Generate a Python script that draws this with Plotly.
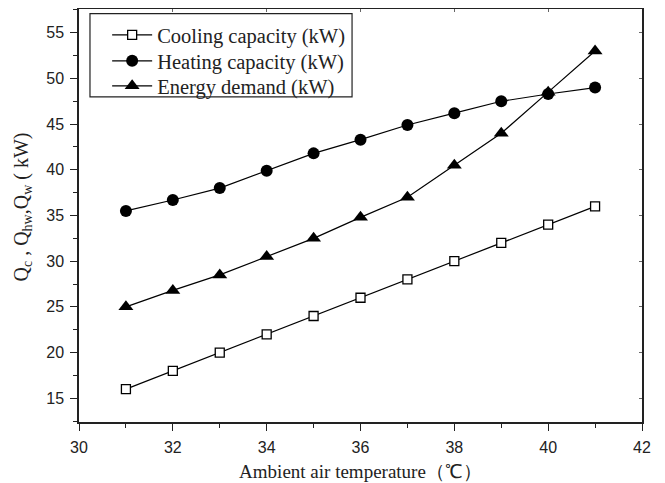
import plotly.graph_objects as go

temperature = [31, 32, 33, 34, 35, 36, 37, 38, 39, 40, 41]
cooling_capacity = [16, 18, 20, 22, 24, 26, 28, 30, 32, 34, 36]
heating_capacity = [35.5, 36.7, 38.0, 39.9, 41.8, 43.3, 44.9, 46.2, 47.5, 48.3, 49.0]
energy_demand = [25.0, 26.8, 28.5, 30.5, 32.5, 34.8, 37.0, 40.5, 44.0, 48.5, 53.0]

names = ["Cooling capacity (kW)", "Heating capacity (kW)", "Energy demand (kW)"]
x_title = "Ambient air temperature（℃）"
y_title = "Q<sub>c</sub> , Q<sub>hw</sub>,Q<sub>w</sub> ( kW)"

SERIF = "Liberation Serif"
SANS = "Liberation Sans"
INK = "#222"
XRANGE = [30, 42]
YRANGE = [12.4, 57.6]

fig = go.Figure()
fig.add_trace(go.Scatter(
    x=temperature, y=cooling_capacity, name=names[0], mode="lines+markers",
    line=dict(color="black", width=1.2), legend="legend",
    marker=dict(symbol="square", size=9, color="white", line=dict(color="black", width=1.3)),
))
fig.add_trace(go.Scatter(
    x=temperature, y=heating_capacity, name=names[1], mode="lines+markers",
    line=dict(color="black", width=1.2), legend="legend2",
    marker=dict(symbol="circle", size=12, color="black"),
))
fig.add_trace(go.Scatter(
    x=temperature, y=energy_demand, name=names[2], mode="lines+markers",
    line=dict(color="black", width=1.2), legend="legend3",
    marker=dict(symbol="triangle-up", size=13, color="black"),
))
# empty helper trace so the mirrored (top/right) tick axes get drawn
fig.add_trace(go.Scatter(
    x=[None], y=[None], xaxis="x2", yaxis="y2", mode="lines",
    showlegend=False, hoverinfo="skip",
))

axis_common = dict(
    showgrid=False, zeroline=False, showline=True, linecolor=INK, linewidth=1.5,
    mirror=True, ticks="outside", ticklen=7, tickwidth=1.3, tickcolor=INK,
    tickfont=dict(family=SANS, size=16, color=INK), automargin=False,
)

fig.update_layout(
    xaxis=dict(
        range=XRANGE, dtick=2, tick0=30, ticklabelstandoff=3,
        minor=dict(dtick=1, ticks="outside", ticklen=4, tickwidth=1.2, tickcolor=INK),
        title=dict(text=x_title, font=dict(family=SERIF, size=19, color=INK), standoff=10),
        **axis_common,
    ),
    yaxis=dict(
        range=YRANGE, dtick=5, tick0=15, ticklabelstandoff=3,
        minor=dict(dtick=2.5, ticks="outside", ticklen=4, tickwidth=1.2, tickcolor=INK),
        **axis_common,
    ),
    xaxis2=dict(
        overlaying="x", side="top", range=XRANGE, dtick=2, tick0=30,
        ticks="inside", ticklen=3, tickwidth=1, tickcolor="#666",
        showticklabels=False, showgrid=False, zeroline=False, showline=False,
    ),
    yaxis2=dict(
        overlaying="y", side="right", range=YRANGE, dtick=5, tick0=15,
        ticks="inside", ticklen=3, tickwidth=1, tickcolor="#666",
        showticklabels=False, showgrid=False, zeroline=False, showline=False,
    ),
    annotations=[dict(
        text=y_title, textangle=-90, xref="paper", yref="paper",
        x=-0.1, y=0.521, xanchor="center", yanchor="middle", showarrow=False,
        font=dict(family=SERIF, size=20, color=INK),
    )],
)

legend_style = dict(
    xanchor="left", yanchor="middle", x=0.05,
    bgcolor="rgba(0,0,0,0)", borderwidth=0,
    font=dict(family=SERIF, size=20.5, color=INK), itemwidth=40,
)

fig.update_layout(
    width=665, height=483,
    margin=dict(l=71, r=31, t=1, b=69),
    paper_bgcolor="white", plot_bgcolor="white",
    showlegend=True,
    legend=dict(y=0.937, **legend_style),
    legend2=dict(y=0.874, **legend_style),
    legend3=dict(y=0.8136, **legend_style),
    shapes=[dict(
        type="rect", xref="paper", yref="paper",
        x0=0.0195, x1=0.485, y0=0.787, y1=0.989,
        line=dict(color=INK, width=1.2), fillcolor="white", layer="below",
    )],
)

fig.write_html("out.html")
